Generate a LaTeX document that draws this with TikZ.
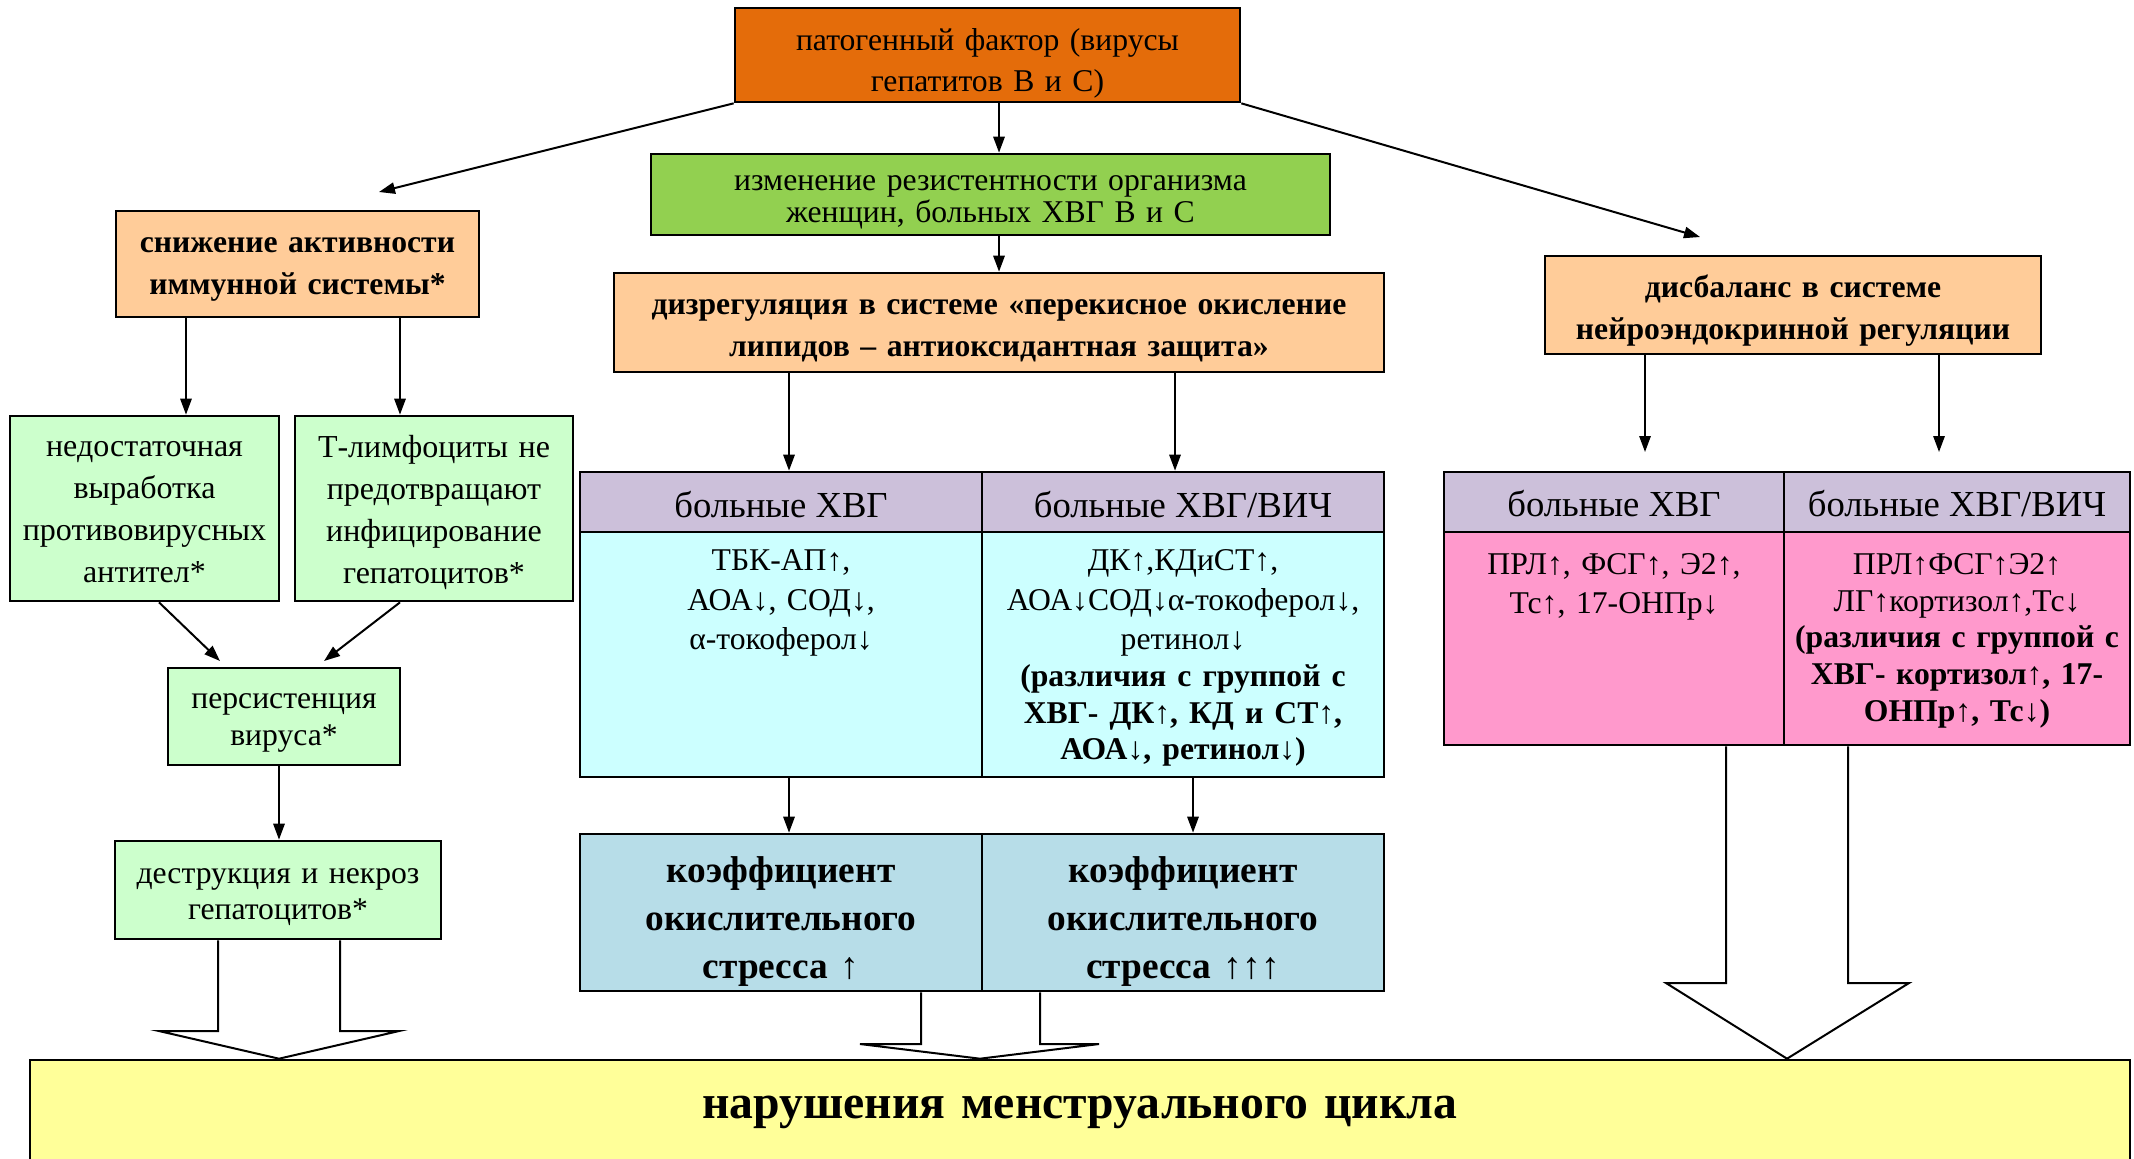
\documentclass[tikz,border=0pt]{standalone}
\usepackage{fontspec}
\setmainfont{Liberation Serif}
\usetikzlibrary{arrows.meta,calc}
\definecolor{corange}{HTML}{E46C0A}
\definecolor{cgreen}{HTML}{92D050}
\definecolor{cpeach}{HTML}{FFCC99}
\definecolor{clgreen}{HTML}{CCFFCC}
\definecolor{clav}{HTML}{CCC0DA}
\definecolor{ccyan}{HTML}{CCFFFF}
\definecolor{cblue}{HTML}{B7DDE8}
\definecolor{cpink}{HTML}{FF99CC}
\definecolor{cyel}{HTML}{FFFF99}
\newcommand\myfs[2]{\fontsize{#1}{#2}\selectfont}
\begin{document}
\begin{tikzpicture}[x=0.3pt,y=-0.3pt,
  box/.style={draw=black, line width=0.8pt, inner sep=0pt, align=center},
  sz/.style 2 args={minimum width={#1*0.3pt}, minimum height={#2*0.3pt}},
  tw/.style={text width={#1*0.3pt}},
  txt/.style={inner sep=0pt, align=center},
  arr/.style={-{Triangle[length=4.8pt,width=3.4pt]}, line width=0.6pt},
  blk/.style={line width=0.6pt, line join=miter},
]
\useasboundingbox (0,0) rectangle (2134,1158);

% bottom box
\node[box, fill=cyel, sz={2100}{105}, tw=2000, font=\myfs{14.3}{18}\bfseries] (mcyc) at (1080,1112.5) {нарушения менструального цикла};

% top row boxes
\node[box, fill=corange, sz={505}{94}] (top) at (987.5,55) {};
\node[box, fill=cgreen, sz={679}{81}] (gr) at (990.5,194.5) {};
\node[box, fill=cpeach, sz={363}{106}] (lp) at (297.5,264) {};
\node[box, fill=cpeach, sz={770}{99}] (dz) at (999,322.5) {};
\node[box, fill=cpeach, sz={496}{98}] (rp) at (1793,305) {};
\node[txt, tw=490, font=\myfs{9.5}{12.3}] (topt) at ([yshift=-2.4pt]top.center) {патогенный фактор (вирусы\\ гепатитов В и С)};
\node[txt, tw=670, font=\myfs{9.5}{9.6}] (grt) at ([yshift=-2.4pt]gr.center) {изменение резистентности организма\\ женщин, больных ХВГ В и С};
\node[txt, tw=355, font=\myfs{9.5}{12.6}\bfseries] (lpt) at ([yshift=-1.5pt]lp.center) {снижение активности\\ иммунной системы*};
\node[txt, tw=760, font=\myfs{9.5}{12.6}\bfseries] (dzt) at ([yshift=-2.4pt]dz.center) {дизрегуляция в системе «перекисное окисление\\ липидов – антиоксидантная защита»};
\node[txt, tw=490, font=\myfs{9.5}{12.6}\bfseries] (rpt) at ([yshift=-1.7pt]rp.center) {дисбаланс в системе\\ нейроэндокринной регуляции};

% left column
\node[box, fill=clgreen, sz={269}{185}] (nd) at (144.5,508.5) {};
\node[box, fill=clgreen, sz={278}{185}] (tl) at (434,508.5) {};
\node[box, fill=clgreen, sz={232}{97}] (ps) at (284,716.5) {};
\node[box, fill=clgreen, sz={326}{98}] (ds) at (278,890) {};
\node[txt, tw=265, font=\myfs{9.6}{12.6}] (ndt) at ([yshift=-1.2pt]nd.center) {недостаточная\\ выработка\\ противовирусных\\ антител*};
\node[txt, tw=272, font=\myfs{9.6}{12.6}] (tlt) at ([yshift=-1.2pt]tl.center) {Т-лимфоциты не\\ предотвращают\\ инфицирование\\ гепатоцитов*};
\node[txt, tw=228, font=\myfs{9.5}{11.1}] (pst) at ([yshift=-1.8pt]ps.center) {персистенция\\ вируса*};
\node[txt, tw=320, font=\myfs{9.5}{10.8}] (dst) at ([yshift=-2.1pt]ds.center) {деструкция и некроз\\ гепатоцитов*};

% middle table
\node[box, fill=clav, sz={402}{60}] (mh1) at (781,502) {};
\node[box, fill=clav, sz={402}{60}] (mh2) at (1183,502) {};
\node[txt, font=\myfs{11}{13}] (mh1t) at ([yshift=-0.9pt]mh1.center) {больные ХВГ};
\node[txt, font=\myfs{11}{13}] (mh2t) at ([yshift=-0.9pt]mh2.center) {больные ХВГ/ВИЧ};
\node[box, fill=ccyan, sz={402}{245}] (mb1) at (781,654.5) {};
\node[box, fill=ccyan, sz={402}{245}] (mb2) at (1183,654.5) {};
\node[txt, tw=390, anchor=north, font=\myfs{9.5}{11.9}] (mt1) at (mb1.north |- 0,549) {ТБК-АП↑,\\ АОА↓, СОД↓,\\ α-токоферол↓};
\node[txt, tw=396, anchor=north] (mt2) at (mb2.north |- 0,549) {{\myfs{9.5}{11.9}ДК↑,КДиСТ↑,\\ АОА↓СОД↓α-токоферол↓,\\ ретинол↓\par}{\myfs{9.5}{11}\bfseries (различия с группой с\\ ХВГ- ДК↑, КД и СТ↑,\\ АОА↓, ретинол↓)\par}};
\node[box, fill=cblue, sz={402}{157}] (mc1) at (781,912.5) {};
\node[box, fill=cblue, sz={402}{157}] (mc2) at (1183,912.5) {};
\node[txt, tw=390, anchor=north, font=\myfs{11.2}{14.4}\bfseries] (ct1) at (mc1.north |- 0,856) {коэффициент\\ окислительного\\ стресса ↑};
\node[txt, tw=390, anchor=north, font=\myfs{11.2}{14.4}\bfseries] (ct2) at (mc2.north |- 0,856) {коэффициент\\ окислительного\\ стресса ↑↑↑};

% right table
\node[box, fill=clav, sz={340}{60}] (rh1) at (1614,502) {};
\node[box, fill=clav, sz={346}{60}] (rh2) at (1957,502) {};
\node[txt, font=\myfs{11}{13}] (rh1t) at ([yshift=-0.5pt]rh1.center) {больные ХВГ};
\node[txt, font=\myfs{11}{13}] (rh2t) at ([yshift=-0.5pt]rh2.center) {больные ХВГ/ВИЧ};
\node[box, fill=cpink, sz={340}{213}] (rb1) at (1614,638.5) {};
\node[box, fill=cpink, sz={346}{213}] (rb2) at (1957,638.5) {};
\node[txt, tw=330, anchor=north, font=\myfs{9.5}{11.7}] (rt1) at (rb1.north |- 0,553) {ПРЛ↑, ФСГ↑, Э2↑,\\ Тс↑, 17-ОНПр↓};
\node[txt, tw=340, anchor=north, font=\myfs{9.5}{11}] (rt2) at (rb2.north |- 0,553) {ПРЛ↑ФСГ↑Э2↑\\ ЛГ↑кортизол↑,Тс↓\\ {\bfseries (различия с группой с\\ ХВГ- кортизол↑, 17-\\ ОНПр↑, Тс↓)}};

% arrows
\coordinate (a1) at (379,192);
\coordinate (a2) at (1700,237);
\coordinate (a3) at (220,661);
\coordinate (a4) at (324,661);
\coordinate (a5) at (1645,452);
\coordinate (a6) at (1939,452);
\draw[arr] (top.south west) -- (a1);
\draw[arr] (top.south east) -- (a2);
\draw[arr] (top.south -| dz.north) -- (gr.north -| dz.north);
\draw[arr] (gr.south -| dz.north) -- (dz.north);
\draw[arr] (lp.south -| 186,0) -- (nd.north -| 186,0);
\draw[arr] (lp.south -| 400,0) -- (tl.north -| 400,0);
\draw[arr] (nd.south -| 159,0) -- (a3);
\draw[arr] (tl.south -| 400,0) -- (a4);
\draw[arr] (ps.south -| 279,0) -- (ds.north -| 279,0);
\draw[arr] (dz.south -| 789,0) -- (mh1.north -| 789,0);
\draw[arr] (dz.south -| 1175,0) -- (mh2.north -| 1175,0);
\draw[arr] (rp.south -| a5) -- (a5);
\draw[arr] (rp.south -| a6) -- (a6);
\draw[arr] (mb1.south -| 789,0) -- (mc1.north -| 789,0);
\draw[arr] (mb2.south -| 1193,0) -- (mc2.north -| 1193,0);

% block arrows
\draw[blk] (ds.south -| 218,0) -- (218,1031) -- (159,1031) -- (mcyc.north -| 279,0) -- (399,1031) -- (340,1031) -- (ds.south -| 340,0);
\draw[blk] (mc1.south -| 921,0) -- (921,1044) -- (860,1044) -- (mcyc.north -| 980,0) -- (1099,1044) -- (1040,1044) -- (mc2.south -| 1040,0);
\draw[blk] (rb1.south -| 1726,0) -- (1726,983) -- (1666,983) -- (mcyc.north -| 1787,0) -- (1909,983) -- (1848,983) -- (rb2.south -| 1848,0);
\end{tikzpicture}
\end{document}
